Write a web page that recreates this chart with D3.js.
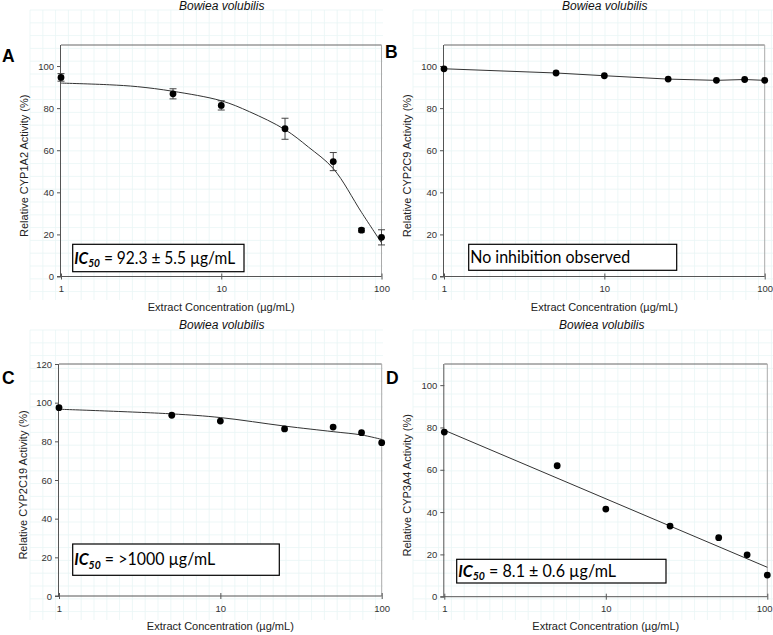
<!DOCTYPE html>
<html><head><meta charset="utf-8">
<script src="https://cdn.jsdelivr.net/npm/d3@7"></script>
<style>body{margin:0;background:#fff}svg{display:block}</style>
</head><body>
<script>
// ---------------- data ----------------
const conc = [1, 5, 10, 25, 50, 75, 100];
const xTickValues = [1, 10, 100];
const speciesTitle = "Bowiea volubilis";
const xAxisTitle = "Extract Concentration (\u00b5g/mL)";

// Panel A: CYP1A2
const cyp1a2Mean = [94.6, 86.8, 81.3, 70.2, 54.6, 22.0, 18.6];
const cyp1a2Err  = [1.8, 2.4, 2.2, 5.0, 4.3, 0.9, 3.6];
const cyp1a2FitX = [1, 2, 3, 5, 10, 15, 25, 35, 50, 75, 100];
const cyp1a2FitY = [91.9, 91.1, 90.2, 88.0, 83.5, 78.3, 69.8, 61.5, 51.3, 30.5, 16.0];

// Panel B: CYP2C9
const cyp2c9Mean = [98.7, 96.7, 95.4, 93.8, 93.2, 93.6, 93.2];

// Panel C: CYP2C19
const cyp2c19Mean = [97.4, 93.5, 90.5, 86.4, 87.4, 84.5, 79.3];
const cyp2c19FitX = [1, 5, 10, 25, 50, 75, 100];
const cyp2c19FitY = [96.6, 94.2, 92.3, 87.9, 85.0, 83.3, 81.0];

// Panel D: CYP3A4
const cyp3a4Mean = [77.8, 61.9, 41.4, 33.4, 27.9, 19.8, 10.2];
const cyp3a4FitX = [1, 100];
const cyp3a4FitY = [78.7, 13.9];

const yTicksA = [0, 20, 40, 60, 80, 100];
const yTicksC = [0, 20, 40, 60, 80, 100, 120];

// ---------------- layout ----------------
const W = 773, H = 635;
const svg = d3.select("body").append("svg").attr("width", W).attr("height", H)
  .style("font-family", "'Liberation Sans', Arial, sans-serif");

// faint graph-paper background
const gridG = svg.append("g").attr("stroke", "#e8f5f5").attr("stroke-width", 0.8);
const regions = [[30, 10, 383, 300], [413, 10, 773, 300], [30, 330, 383, 620], [413, 330, 773, 620]];
regions.forEach(([x0, y0, x1, y1]) => {
  for (let x = x0; x <= x1; x += 12.8) gridG.append("line").attr("x1", x).attr("x2", x).attr("y1", y0).attr("y2", y1);
  for (let y = y0; y <= y1; y += 12.8) gridG.append("line").attr("x1", x0).attr("x2", x1).attr("y1", y).attr("y2", y);
});

const panels = [
  { letter: "A", yLabel: "Relative CYP1A2 Activity (%)", left: 61, right: 381.5, top: 45, bottom: 276.5, yMax: 110, yTicks: yTicksA,
    mean: cyp1a2Mean, err: cyp1a2Err, fitX: cyp1a2FitX, fitY: cyp1a2FitY, curve: d3.curveCatmullRom.alpha(0.5),
    box: { x: 72.7, y: 244.3, w: 171.3, h: 27.4, tw: 161 }, ic: "92.3 \u00b1 5.5 \u00b5g/mL",
    titleX: 221.7, titleY: 10, letterX: 2, letterY: 62, yLabelX: 28, xTitleY: 311 },
  { letter: "B", yLabel: "Relative CYP2C9 Activity (%)", left: 444, right: 764.7, top: 45, bottom: 276.5, yMax: 110, yTicks: yTicksA,
    mean: cyp2c9Mean, err: null, fitX: conc, fitY: cyp2c9Mean, curve: d3.curveLinear,
    box: { x: 468.7, y: 244.3, w: 208, h: 26, tw: 160 }, text: "No inhibition observed",
    titleX: 604.7, titleY: 10, letterX: 385, letterY: 58, yLabelX: 411, xTitleY: 311 },
  { letter: "C", yLabel: "Relative CYP2C19 Activity (%)", left: 59, right: 381.7, top: 364, bottom: 596, yMax: 120, yTicks: yTicksC,
    mean: cyp2c19Mean, err: null, fitX: cyp2c19FitX, fitY: cyp2c19FitY, curve: d3.curveCatmullRom.alpha(0.5),
    box: { x: 72.7, y: 544, w: 206.6, h: 31.3, tw: 141 }, ic: ">1000 \u00b5g/mL",
    titleX: 221.7, titleY: 329, letterX: 2, letterY: 384, yLabelX: 27, xTitleY: 630 },
  { letter: "D", yLabel: "Relative CYP3A4 Activity (%)", left: 444.3, right: 767.3, top: 364, bottom: 596.7, yMax: 110, yTicks: yTicksA,
    mean: cyp3a4Mean, err: null, fitX: cyp3a4FitX, fitY: cyp3a4FitY, curve: d3.curveLinear,
    box: { x: 456.7, y: 559.3, w: 209.3, h: 23.7, tw: 158 }, ic: "8.1 \u00b1 0.6 \u00b5g/mL",
    titleX: 601.7, titleY: 329, letterX: 386, letterY: 384, yLabelX: 411, xTitleY: 630 }
];

panels.forEach(p => {
  const g = svg.append("g");
  const x = d3.scaleLog().domain([1, 100]).range([p.left, p.right]);
  const y = d3.scaleLinear().domain([0, p.yMax]).range([p.bottom, p.top]);

  // title
  g.append("text").attr("x", p.titleX).attr("y", p.titleY).attr("text-anchor", "middle")
    .attr("font-size", 12).attr("font-style", "italic").attr("fill", "#111").text(speciesTitle);
  // panel letter
  g.append("text").attr("x", p.letterX).attr("y", p.letterY).attr("font-size", 17.5)
    .attr("font-weight", "bold").attr("fill", "#000").text(p.letter);

  // frame (top & right)
  g.append("line").attr("x1", p.left).attr("x2", p.right).attr("y1", p.top).attr("y2", p.top)
    .attr("stroke", "#666").attr("stroke-width", 1);
  g.append("line").attr("x1", p.right).attr("x2", p.right).attr("y1", p.top).attr("y2", p.bottom)
    .attr("stroke", "#aaa").attr("stroke-width", 1);

  // y axis
  const ya = g.append("g").attr("transform", `translate(${p.left},0)`)
    .call(d3.axisLeft(y).tickValues(p.yTicks).tickSize(4).tickPadding(3).tickFormat(d3.format("d")));
  ya.select(".domain").attr("stroke", "#555").attr("d", `M-0.5,${p.top}V${p.bottom}`);
  ya.selectAll(".tick line").attr("stroke", "#555");
  ya.selectAll(".tick text").attr("font-size", 9.5).attr("fill", "#333")
    .attr("font-family", "'Liberation Sans', Arial, sans-serif");

  // x axis
  const xa = g.append("g").attr("transform", `translate(0,${p.bottom})`)
    .call(d3.axisBottom(x).tickValues(xTickValues).tickSize(3).tickPadding(6).tickFormat(d3.format("d")));
  xa.select(".domain").attr("stroke", "#555").attr("d", `M${p.left - 4},0H${p.right}`);
  xa.selectAll(".tick line").attr("stroke", "#555").attr("y1", -3);
  xa.selectAll(".tick text").attr("font-size", 9.5).attr("fill", "#333")
    .attr("font-family", "'Liberation Sans', Arial, sans-serif");
  // keep the last label inside the picture
  xa.selectAll(".tick text").filter(d => d === 100 && p.right > 766)
    .attr("text-anchor", "end").attr("x", W - 1 - p.right);

  // axis titles
  g.append("text").attr("x", (p.left + p.right) / 2).attr("y", p.xTitleY).attr("text-anchor", "middle")
    .attr("font-size", 11).attr("fill", "#222").text(xAxisTitle);
  g.append("text").attr("transform", `translate(${p.yLabelX},${(p.top + p.bottom) / 2 + 5}) rotate(-90)`)
    .attr("text-anchor", "middle").attr("font-size", 11).attr("fill", "#222").text(p.yLabel);

  // fit line
  const line = d3.line().x(d => x(d[0])).y(d => y(d[1])).curve(p.curve);
  g.append("path").datum(d3.zip(p.fitX, p.fitY)).attr("d", line)
    .attr("fill", "none").attr("stroke", "#333").attr("stroke-width", 1);

  // error bars
  if (p.err) {
    const eb = g.append("g").attr("stroke", "#444").attr("stroke-width", 1);
    conc.forEach((c, i) => {
      const lo = y(p.mean[i] - p.err[i]), hi = y(p.mean[i] + p.err[i]);
      eb.append("line").attr("x1", x(c)).attr("x2", x(c)).attr("y1", lo).attr("y2", hi);
      eb.append("line").attr("x1", x(c) - 3.5).attr("x2", x(c) + 3.5).attr("y1", lo).attr("y2", lo);
      eb.append("line").attr("x1", x(c) - 3.5).attr("x2", x(c) + 3.5).attr("y1", hi).attr("y2", hi);
    });
  }

  // points
  g.selectAll("circle.pt").data(d3.zip(conc, p.mean)).join("circle").attr("class", "pt")
    .attr("cx", d => x(d[0])).attr("cy", d => y(d[1])).attr("r", 3.4).attr("fill", "#000");

  // annotation box
  const b = p.box;
  g.append("rect").attr("x", b.x).attr("y", b.y).attr("width", b.w).attr("height", b.h)
    .attr("fill", "#fff").attr("stroke", "#000").attr("stroke-width", 1.2);
  const t = g.append("text").attr("font-family", "Lato, 'Open Sans', sans-serif")
    .attr("font-size", 17.5).attr("fill", "#000");
  if (p.ic) {
    t.append("tspan").attr("font-weight", "bold").attr("font-style", "italic").text("IC");
    t.append("tspan").attr("font-weight", "bold").attr("font-style", "italic").attr("font-size", 11.5).attr("dy", 3.5).text("50");
    t.append("tspan").attr("dy", -3.5).text(" = " + p.ic);
  } else {
    t.text(p.text);
  }
  const bw = t.node().getBBox().width;
  const sx = b.tw / bw;
  const tx = b.x + 1.5, ty = b.y + b.h / 2 + 5.8;
  t.attr("transform", `translate(${tx},${ty}) scale(${sx},1)`);
});
</script>
</body></html>
